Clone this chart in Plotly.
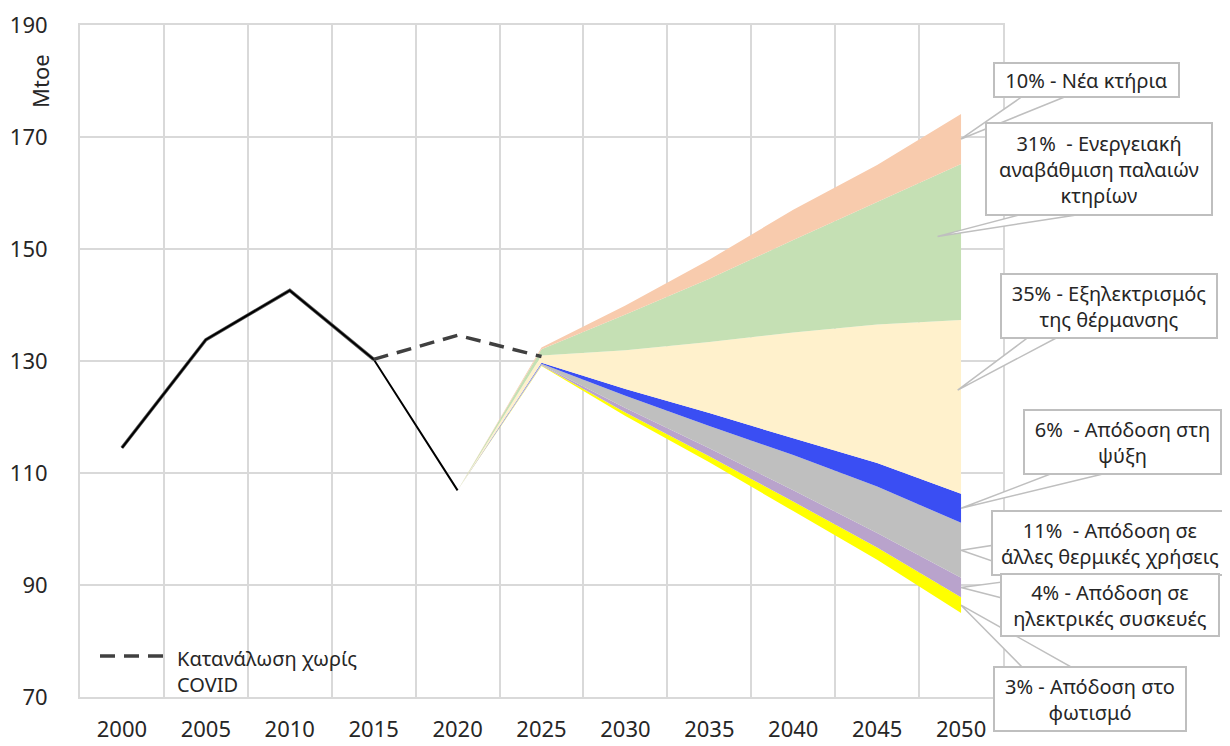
import plotly.graph_objects as go

# ---------------- data ----------------
hist_years = [2000, 2005, 2010, 2015, 2020]
hist_values = [114.5, 133.8, 142.6, 130.3, 106.9]

nocovid_years = [2000, 2005, 2010, 2015, 2020, 2025]
nocovid_values = [114.5, 133.8, 142.6, 130.3, 134.6, 130.8]

proj_years = [2020, 2025, 2030, 2035, 2040, 2045, 2050]
base_level = [106.9, 129.1, 120.2, 111.9, 103.2, 94.5, 85.0]
lighting = [0, 0.1, 0.6, 1.1, 1.7, 2.2, 2.8]
appliances = [0, 0.1, 0.8, 1.4, 2.0, 2.6, 3.5]
other_thermal = [0, 0.2, 2.2, 4.0, 6.3, 8.3, 9.8]
cooling = [0, 0.2, 1.2, 2.3, 3.0, 4.2, 5.2]
electrification = [0, 1.3, 6.9, 12.7, 18.9, 24.7, 31.0]
renovation = [0, 1.1, 6.4, 11.3, 16.5, 21.9, 27.9]
new_buildings = [0, 0.3, 1.6, 3.4, 5.4, 6.6, 8.9]

layer_values = [lighting, appliances, other_thermal, cooling,
                electrification, renovation, new_buildings]
layer_names = ["3% - Απόδοση στο<br>φωτισμό",
               "4% - Απόδοση σε<br>ηλεκτρικές συσκευές",
               "11%  - Απόδοση σε<br>άλλες θερμικές χρήσεις",
               "6%  - Απόδοση στη<br>ψύξη",
               "35% - Εξηλεκτρισμός<br>της θέρμανσης",
               "31%  - Ενεργειακή<br>αναβάθμιση παλαιών<br>κτηρίων",
               "10% - Νέα κτήρια"]
layer_colors = ["#FFFF00", "#B9A3CC", "#BFBFBF", "#3A4EF3",
                "#FFF1CC", "#C5E0B4", "#F8CBAD"]

x_ticks = [2000, 2005, 2010, 2015, 2020, 2025, 2030, 2035, 2040, 2045, 2050]
y_ticks = [70, 90, 110, 130, 150, 170, 190]

# ---------------- layout geometry (screen pixels) ----------------
W_PX, H_PX = 1230, 746
OFF = 8                      # page body margin
L, T, PW, PH = 80, 25, 923, 672
X0, X1 = 1997.5, 2052.5
Y0, Y1 = 70, 190
FONT = "Noto Sans"
TXT = "#262626"
GRID = "#D9D9D9"
BORDER = "#BFBFBF"


def px(xp):
    return (xp - L) / PW


def py(yp):
    return (T + PH - yp) / PH


def dx(year):
    return (year - X0) / (X1 - X0)


def dy(v):
    return (v - Y0) / (Y1 - Y0)


fig = go.Figure()

# invisible base of the stack
fig.add_trace(go.Scatter(x=proj_years, y=base_level, stackgroup="proj",
                         mode="lines", line=dict(width=0),
                         fillcolor="rgba(0,0,0,0)", showlegend=False,
                         hoverinfo="skip"))
for vals, name, col in zip(layer_values, layer_names, layer_colors):
    fig.add_trace(go.Scatter(x=proj_years, y=vals, stackgroup="proj",
                             mode="lines", line=dict(width=0, color=col),
                             fillcolor=col, name=name.replace("<br>", " "),
                             showlegend=False))

# no-COVID consumption: solid grey under history, dashed afterwards
fig.add_trace(go.Scatter(x=nocovid_years[:4], y=nocovid_values[:4], mode="lines",
                         line=dict(color="#595959", width=3.5),
                         showlegend=False, hoverinfo="skip"))
fig.add_trace(go.Scatter(x=hist_years, y=hist_values, mode="lines",
                         line=dict(color="#000000", width=2),
                         name="Κατανάλωση", showlegend=False))
fig.add_trace(go.Scatter(x=nocovid_years[3:], y=nocovid_values[3:], mode="lines",
                         line=dict(color="#404040", width=3.5, dash="15px,9px"),
                         name="Κατανάλωση χωρίς COVID", showlegend=False))

# ---------------- callouts ----------------
last_bottoms = []
acc = base_level[-1]
for vals in layer_values:
    last_bottoms.append(acc)
    acc += vals[-1]

callouts = [
    # layer, tip year, tip nudge (value), box centre px, box size px, wedge base px
    (6, 2050.0, 0.0, (1086, 80), (187, 36), [(1023, 96), (1067, 96)]),
    (5, 2048.6, 1.0, (1099, 169), (228, 94), [(1023, 214), (1083, 214)]),
    (4, 2049.8, 3.0, (1109, 306), (218, 66), [(1030, 336), (1060, 336)]),
    (3, 2050.0, 0.0, (1122, 442), (199, 66), [(1053, 473), (1107, 473)]),
    (2, 2050.0, 0.0, (1110, 543), (238, 66), [(995, 545), (995, 562)]),
    (1, 2050.0, 0.0, (1110, 605), (220, 64), [(1002, 582), (1002, 598)]),
    (0, 2050.0, 0.0, (1090, 699), (194, 66), [(1023, 668), (1073, 668)]),
]

shapes = []
annotations = []
for layer, tip_year, nudge, (cx, cy), (bw, bh), base_pts in callouts:
    mid = last_bottoms[layer] + layer_values[layer][-1] / 2 + nudge
    tx, ty = dx(tip_year), dy(mid)
    (b1x, b1y), (b2x, b2y) = base_pts
    path = (f"M {tx:.5f},{ty:.5f} L {px(b1x):.5f},{py(b1y):.5f} "
            f"L {px(b2x):.5f},{py(b2y):.5f} Z")
    shapes.append(dict(type="path", xref="paper", yref="paper", path=path,
                       fillcolor="white", line=dict(color=BORDER, width=1.5),
                       layer="above"))
    annotations.append(dict(x=px(cx), y=py(cy), xref="paper", yref="paper",
                            xanchor="center", yanchor="middle", showarrow=False,
                            text=layer_names[layer], align="center",
                            width=bw - 4, height=bh - 4, borderpad=0,
                            bordercolor=BORDER, borderwidth=2, bgcolor="white",
                            font=dict(family=FONT, size=20, color=TXT)))

# legend-like entry for the dashed series
shapes.append(dict(type="line", xref="paper", yref="paper",
                   x0=px(100), x1=px(167), y0=py(656), y1=py(656),
                   line=dict(color="#404040", width=3.5, dash="15px,9px")))
annotations.append(dict(x=px(175), y=py(671), xref="paper", yref="paper",
                        xanchor="left", yanchor="middle", showarrow=False,
                        align="left", text="Κατανάλωση χωρίς<br>COVID",
                        font=dict(family=FONT, size=20, color=TXT)))

# y-axis title
annotations.append(dict(x=px(40), y=py(81), xref="paper", yref="paper",
                        xanchor="center", yanchor="middle", showarrow=False,
                        text="Mtoe", textangle=-90,
                        font=dict(family=FONT, size=22, color=TXT)))

grid_x = [X0 + 5 * i for i in range(12)]

fig.update_layout(
    width=W_PX - OFF, height=H_PX - OFF,
    margin=dict(l=L - OFF, r=W_PX - L - PW, t=T - OFF, b=H_PX - T - PH,
                autoexpand=False),
    paper_bgcolor="white", plot_bgcolor="white",
    font=dict(family=FONT, size=20, color=TXT),
    showlegend=False,
    shapes=shapes, annotations=annotations,
    xaxis=dict(range=[X0, X1], tickmode="array", tickvals=x_ticks,
               ticktext=[str(v) for v in x_ticks], showgrid=False,
               ticks="", ticklabelstandoff=12, automargin=False,
               tickfont=dict(family=FONT, size=22, color=TXT),
               minor=dict(tickmode="array", tickvals=grid_x, showgrid=True,
                          gridcolor=GRID, gridwidth=2, ticks=""),
               showline=True, linecolor=GRID, linewidth=2, mirror=True,
               zeroline=False, fixedrange=True),
    yaxis=dict(range=[Y0, Y1], tickmode="array", tickvals=y_ticks,
               showgrid=True, gridcolor=GRID, gridwidth=2, ticks="",
               ticklabelstandoff=26, automargin=False,
               tickfont=dict(family=FONT, size=22, color=TXT),
               showline=True, linecolor=GRID, linewidth=2, mirror=True,
               zeroline=False, fixedrange=True),
)

fig.write_html("out.html")
